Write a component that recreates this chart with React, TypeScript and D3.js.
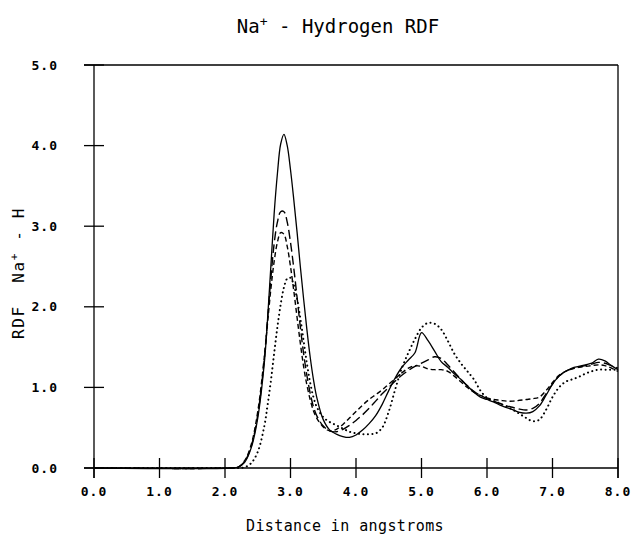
import React from "react";
import * as d3 from "d3";

// Radial distribution function of hydrogen around Na+, four simulation runs
const distance = [
  0, 2.1, 2.2, 2.3, 2.4, 2.5, 2.6,
  2.65, 2.7, 2.75, 2.8, 2.85, 2.9, 2.95, 3.0, 3.05, 3.1, 3.15, 3.2, 3.25, 3.3, 3.35,
  3.4, 3.5, 3.6, 3.7, 3.8, 3.9, 4.0, 4.1, 4.2, 4.3, 4.4, 4.5, 4.6, 4.7, 4.8, 4.9,
  5.0, 5.1, 5.2, 5.3, 5.4, 5.5, 5.6, 5.7, 5.8, 5.9, 6.0, 6.1, 6.2, 6.3, 6.4, 6.5,
  6.6, 6.7, 6.8, 6.9, 7.0, 7.1, 7.2, 7.3, 7.4, 7.5, 7.6, 7.7, 7.8, 7.9, 8.0,
];

const rdfSolid = [
  0, 0, 0.01, 0.07, 0.25, 0.62, 1.3,
  1.85, 2.5, 3.15, 3.65, 4.02, 4.14, 4.0, 3.7, 3.33, 2.93, 2.5, 2.1, 1.72, 1.38, 1.1,
  0.88, 0.6, 0.47, 0.42, 0.39, 0.38, 0.41, 0.47, 0.55, 0.65, 0.79, 0.96, 1.12, 1.25, 1.34, 1.43,
  1.68, 1.58, 1.45, 1.32, 1.25, 1.17, 1.1, 1.02, 0.94, 0.88, 0.85, 0.82, 0.78, 0.75, 0.72, 0.69,
  0.68, 0.7, 0.77, 0.9, 1.04, 1.14, 1.2, 1.24, 1.26, 1.28, 1.3, 1.35, 1.33, 1.27, 1.22,
];

const rdfLongDash = [
  0, 0, 0.01, 0.08, 0.27, 0.66, 1.35,
  1.85, 2.35, 2.78, 3.05, 3.18, 3.18, 3.05, 2.8, 2.48, 2.12, 1.75, 1.42, 1.15, 0.93, 0.76,
  0.65, 0.52, 0.46, 0.45, 0.48, 0.53, 0.59, 0.66, 0.74, 0.83, 0.92, 1.0, 1.08, 1.15, 1.21, 1.26,
  1.3, 1.34, 1.38, 1.36, 1.28, 1.19, 1.1, 1.02, 0.95, 0.9, 0.86, 0.83, 0.8, 0.77, 0.75, 0.73,
  0.72, 0.74, 0.8, 0.92, 1.04, 1.14, 1.2, 1.23, 1.25, 1.27, 1.29, 1.31, 1.3, 1.27, 1.24,
];

const rdfShortDash = [
  0, 0, 0.01, 0.09, 0.29, 0.7, 1.38,
  1.8, 2.22, 2.56, 2.8, 2.92, 2.9, 2.75, 2.5, 2.2, 1.87, 1.55, 1.26, 1.03, 0.85, 0.71,
  0.62, 0.51, 0.46, 0.48, 0.54, 0.62, 0.7, 0.78, 0.85, 0.91, 0.97, 1.04, 1.11, 1.18, 1.24, 1.27,
  1.26, 1.23, 1.22, 1.22, 1.2, 1.14, 1.07, 1.0, 0.94, 0.9, 0.87, 0.85, 0.84, 0.83, 0.83, 0.84,
  0.85, 0.86, 0.88, 0.96, 1.06, 1.15, 1.2, 1.23, 1.25, 1.26, 1.27, 1.28, 1.27, 1.24, 1.2,
];

const rdfDotted = [
  0, 0, 0, 0.01, 0.06, 0.2, 0.52,
  0.78, 1.08, 1.42, 1.75, 2.03, 2.24, 2.35, 2.36, 2.27, 2.1, 1.86, 1.58, 1.3, 1.06, 0.88,
  0.76, 0.63, 0.57, 0.53, 0.49, 0.45, 0.43, 0.42, 0.42, 0.43, 0.5, 0.7, 0.98, 1.24, 1.43, 1.6,
  1.74, 1.8, 1.79, 1.72, 1.58, 1.42, 1.3, 1.2, 1.1, 0.96, 0.87, 0.83, 0.8, 0.76, 0.72, 0.67,
  0.62, 0.58, 0.6, 0.72, 0.88, 1.0, 1.07, 1.1, 1.13, 1.17, 1.2, 1.22, 1.22, 1.22, 1.22,
];

const xTicks = [0, 1, 2, 3, 4, 5, 6, 7, 8];
const yTicks = [0, 1, 2, 3, 4, 5];

const series = [
  { name: "solid", values: rdfSolid, dash: "none", width: 1.3, cap: "butt" },
  { name: "long dash", values: rdfLongDash, dash: "9 4", width: 1.4, cap: "butt" },
  { name: "short dash", values: rdfShortDash, dash: "5 3", width: 1.4, cap: "butt" },
  { name: "dotted", values: rdfDotted, dash: "0.1 4.4", width: 2, cap: "round" },
];

const W = 632;
const H = 540;
const mono = "'DejaVu Sans Mono', monospace";

export default function App() {
  const x = d3.scaleLinear().domain([0, 8]).range([94, 618]);
  const y = d3.scaleLinear().domain([0, 5]).range([468, 65]);

  const line = d3
    .line<number>()
    .x((_, i) => x(distance[i]))
    .y((v) => y(v))
    .curve(d3.curveCatmullRom.alpha(0.5));

  const x0 = x(0);
  const x8 = x(8);
  const yTop = y(5);
  const yBase = y(0);
  const tick = 10;

  return (
    <svg
      width={W}
      height={H}
      viewBox={`0 0 ${W} ${H}`}
      style={{ position: "absolute", left: 0, top: 0, background: "#fff" }}
    >
      <rect x={0} y={0} width={W} height={H} fill="#fff" />

      {/* title */}
      <text x={338} y={33} fontFamily={mono} fontSize={19} textAnchor="middle" fill="#000">
        Na
        <tspan dy={-7} fontSize={13}>+</tspan>
        <tspan dy={7} fontSize={19} style={{ whiteSpace: "pre" }}>{" - Hydrogen RDF"}</tspan>
      </text>

      {/* frame */}
      <g stroke="#000" strokeWidth={1.3} fill="none">
        <line x1={x0} x2={x0} y1={yTop} y2={yBase + tick} />
        <line x1={x0 - tick} x2={x8} y1={yTop} y2={yTop} />
        <line x1={x8} x2={x8} y1={yTop} y2={yBase + tick} />
        <line x1={x0 - tick} x2={x8} y1={yBase} y2={yBase} />
        {yTicks.map((t) => (
          <line key={`yt${t}`} x1={x0 - tick} x2={x0 + tick} y1={y(t)} y2={y(t)} />
        ))}
        {xTicks.map((t) => (
          <line key={`xt${t}`} x1={x(t)} x2={x(t)} y1={yBase - tick} y2={yBase + tick} />
        ))}
      </g>

      {/* tick labels */}
      <g fontFamily={mono} fontSize={13} fontWeight="bold" fill="#000" letterSpacing={1}>
        {yTicks.map((t) => (
          <text key={`yl${t}`} x={58} y={y(t) + 4.5} textAnchor="end">
            {t.toFixed(1)}
          </text>
        ))}
        {xTicks.map((t) => (
          <text key={`xl${t}`} x={x(t)} y={496} textAnchor="middle">
            {t.toFixed(1)}
          </text>
        ))}
      </g>

      {/* axis titles */}
      <text
        x={345}
        y={531}
        fontFamily={mono}
        fontSize={15}
        letterSpacing={0.4}
        textAnchor="middle"
        fill="#000"
      >
        Distance in angstroms
      </text>
      <text
        transform="translate(24,273) rotate(-90)"
        fontFamily={mono}
        fontSize={16}
        letterSpacing={1.6}
        textAnchor="middle"
        fill="#000"
        style={{ whiteSpace: "pre" }}
      >
        {"RDF  Na"}
        <tspan dy={-6} fontSize={11}>+</tspan>
        <tspan dy={6} fontSize={16}>{" - H"}</tspan>
      </text>

      {/* RDF curves */}
      <g fill="none" stroke="#000">
        {series.map((s) => (
          <path
            key={s.name}
            d={line(s.values) ?? ""}
            strokeWidth={s.width}
            strokeDasharray={s.dash}
            strokeLinecap={s.cap as "butt" | "round"}
            strokeLinejoin="round"
          />
        ))}
      </g>
    </svg>
  );
}
